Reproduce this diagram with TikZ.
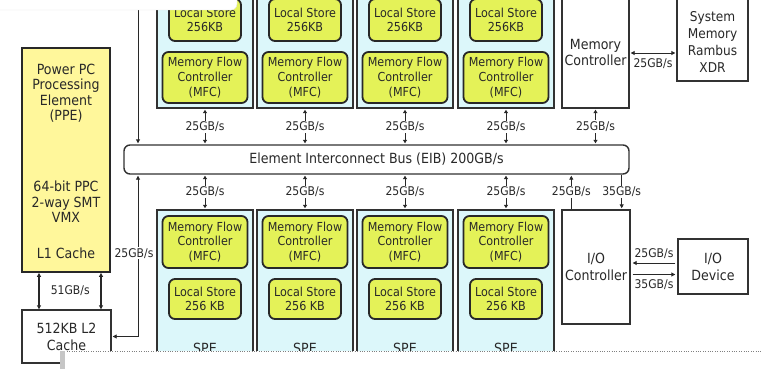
\documentclass[tikz,border=0pt]{standalone}
\usepackage{fontspec}
\setmainfont{DejaVu Sans}[FakeStretch=0.9]
\usetikzlibrary{arrows.meta}
\definecolor{spebg}{RGB}{220,247,250}
\definecolor{ygreen}{RGB}{228,242,88}
\definecolor{ppey}{RGB}{255,247,155}
\definecolor{ink}{RGB}{40,40,40}
\definecolor{edgec}{RGB}{50,50,50}
\tikzset{
  speb/.style={draw=edgec, line width=1.5pt, fill=spebg, minimum width=96pt, inner sep=0pt},
  unitb/.style={draw=ink, line width=1.8pt, fill=ygreen, rounded corners=6pt, align=center, inner sep=0pt, text=ink, font=\fontsize{12.4}{14.7}\selectfont},
  boxb/.style={draw=edgec, line width=1.4pt, fill=white, align=center, inner sep=0pt, text=ink, font=\fontsize{14}{17}\selectfont},
  ratel/.style={fill=white, inner sep=1pt, text=ink, font=\fontsize{12}{13}\selectfont},
  bigt/.style={text=ink, align=center, inner sep=0pt, font=\fontsize{14}{15.5}\selectfont},
  darr/.style={{Triangle[length=4pt,width=4pt]}-{Triangle[length=4pt,width=4pt]}, line width=0.9pt, draw=ink},
  farr/.style={-{Triangle[length=4pt,width=4pt]}, line width=0.9pt, draw=ink},
  barr/.style={{Triangle[length=4pt,width=4pt]}-, line width=0.9pt, draw=ink},
  sarr/.style={{Triangle[length=3.5pt,width=4pt]}-{Triangle[length=3.5pt,width=4pt]}, line width=0.9pt, draw=ink, shorten <=1pt, shorten >=1pt},
}
\begin{document}
\begin{tikzpicture}[x=1pt,y=-1pt]
\useasboundingbox (0,0) rectangle (761,369);
\clip (0,0) rectangle (761,369);
\fill[white] (0,0) rectangle (761,369);

% SPE columns
\foreach \i/\x in {1/205,2/305,3/405,4/506}{
  \node[speb, minimum height=113pt] (ts\i) at (\x,51.5) {};
  \node[unitb, minimum width=72pt, minimum height=42pt] (tls\i) at (\x,20) {Local Store\\256KB};
  \node[unitb, minimum width=85pt, minimum height=51pt] (tmfc\i) at (\x,77.5) {Memory Flow\\Controller\\(MFC)};
  \node[speb, minimum height=165pt] (bs\i) at (\x,292.5) {};
  \node[unitb, minimum width=85pt, minimum height=52pt] (bmfc\i) at (\x,242) {Memory Flow\\Controller\\(MFC)};
  \node[unitb, minimum width=72pt, minimum height=40pt] (bls\i) at (\x,299) {Local Store\\256 KB};
  \node[bigt, anchor=base] (spe\i) at (\x,353) {SPE};
}

% PPE and L2
\node[boxb, fill=ppey, draw=ink, line width=1.8pt, minimum width=88pt, minimum height=224pt] (ppe) at (66,160) {};
\node[bigt] (ppet1) at (66,93) {Power PC\\Processing\\Element\\(PPE)};
\node[bigt] (ppet2) at (66,202) {64-bit PPC\\2-way SMT\\VMX};
\node[bigt] (ppet3) at (66,253) {L1 Cache};
\node[boxb, minimum width=89pt, minimum height=53pt] (l2) at (66.5,336.5) {512KB L2\\Cache};

% EIB
\node[boxb, rounded corners=6pt, minimum width=505pt, minimum height=29pt] (eib) at (376.5,159.5) {Element Interconnect Bus (EIB) 200GB/s};

% Memory controller, system memory
\node[boxb, minimum width=67pt, minimum height=113pt] (mc) at (595.5,51.5) {};
\node[bigt, font=\fontsize{14}{16}\selectfont] (mct) at (595.5,52) {Memory\\Controller};
\node[boxb, minimum width=71pt, minimum height=86pt] (sm) at (712.5,38) {};
\node[bigt, font=\fontsize{13.5}{17.3}\selectfont] (smt) at (712.5,42) {System\\Memory\\Rambus\\XDR};

% I/O
\node[boxb, minimum width=68pt, minimum height=114pt] (io) at (596,267) {I/O\\Controller};
\node[boxb, minimum width=70pt, minimum height=55pt] (dev) at (713,266.5) {I/O\\Device};

% SPE <-> EIB
\foreach \i in {1,2,3,4}{
  \draw[sarr] (ts\i.south) -- (ts\i.south |- eib.north) node[ratel, midway] {25GB/s};
  \draw[sarr] (bs\i.north) -- (bs\i.north |- eib.south) node[ratel, midway] {25GB/s};
}
\draw[sarr] (mc.south) -- (mc.south |- eib.north) node[ratel, midway] {25GB/s};

% I/O controller <-> EIB
\coordinate (io25) at ([xshift=10pt]io.north west);
\coordinate (io35) at ([xshift=-9pt]io.north east);
\draw[barr, shorten <=1pt] (io25 |- eib.south) -- (io25) node[ratel, midway] {25GB/s};
\draw[farr, shorten >=1pt] (io35 |- eib.south) -- (io35) node[ratel, midway] {35GB/s};

% memory controller <-> system memory
\draw[darr, shorten <=1pt, shorten >=1pt] ([yshift=-1.5pt]mc.east) -- ([yshift=-1.5pt]mc.east -| sm.west)
  node[midway, below=5pt, inner sep=0pt, text=ink, font=\fontsize{12}{13}\selectfont] (mcr) {25GB/s};

% I/O controller <-> device
\draw[farr, shorten <=2pt, shorten >=2pt] ([yshift=3.5pt]dev.west) -- ([yshift=3.5pt]dev.west -| io.east)
  node[midway, above=4pt, inner sep=0pt, text=ink, font=\fontsize{12}{13}\selectfont] (ior1) {25GB/s};
\draw[farr, shorten <=2pt, shorten >=2pt] ([yshift=-8pt]dev.west -| io.east) -- ([yshift=-8pt]dev.west)
  node[midway, below=5pt, inner sep=0pt, text=ink, font=\fontsize{12}{13}\selectfont] (ior2) {35GB/s};

% PPE <-> L2
\draw[darr, line width=1.2pt] ([xshift=-27pt]ppe.south) -- ([xshift=-27pt]ppe.south |- l2.north);
\draw[darr, line width=1.2pt] ([xshift=35pt]ppe.south) -- ([xshift=35pt]ppe.south |- l2.north);
\path (ppe.south) -- (l2.north) node[midway, xshift=4pt, inner sep=0pt, text=ink, font=\fontsize{12}{13}\selectfont] (r51) {51GB/s};

% left vertical bus line
\coordinate (ltop) at (138,-5);
\draw[farr, shorten >=1pt] (ltop) -- (ltop |- eib.north);
\draw[darr, shorten <=1pt, shorten >=1pt] (ltop |- eib.south) |- (l2.east)
  node[ratel, pos=0.243, xshift=-4pt] (rl) {25GB/s};

% overlays of the source image
\fill[white, draw=gray!20, rounded corners=6pt] (-10,-10) rectangle (237,10);
\fill[white] (62,351) rectangle (770,380);
\draw[gray, dotted] (62,351) -- (761,351);
\fill[gray!45] (60,351) rectangle (65,369);
\end{tikzpicture}
\end{document}
